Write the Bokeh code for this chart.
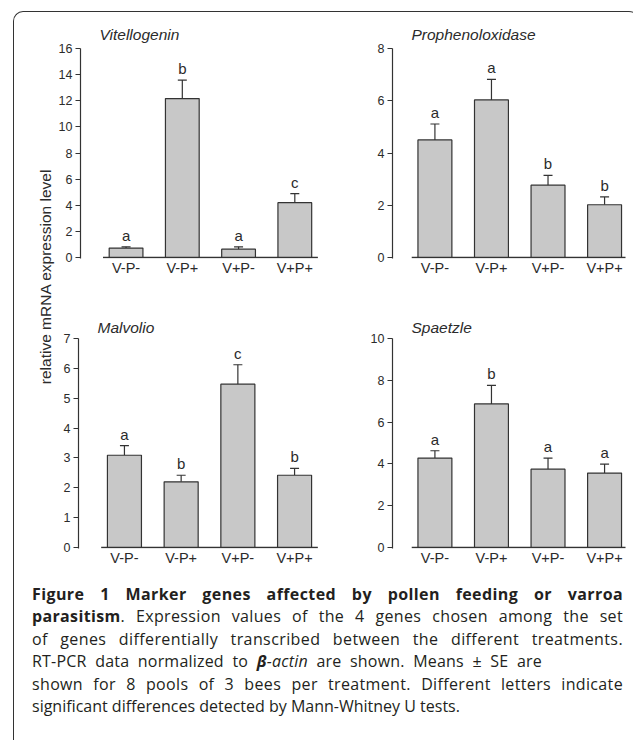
import math
from bokeh.plotting import figure
from bokeh.models import (Range1d, Whisker, ColumnDataSource, TeeHead, Label,
                          Div, FixedTicker, Spacer)
from bokeh.layouts import row, column
from bokeh.embed import file_html
from bokeh.resources import INLINE
from bokeh.core.properties import value

groups = ["V-P-", "V-P+", "V+P-", "V+P+"]

vit_mean = [0.72, 12.17, 0.64, 4.20]
vit_se = [0.10, 1.41, 0.18, 0.69]
vit_letters = ["a", "b", "a", "c"]

pro_mean = [4.50, 6.03, 2.77, 2.02]
pro_se = [0.61, 0.79, 0.37, 0.30]
pro_letters = ["a", "a", "b", "b"]

mal_mean = [3.09, 2.20, 5.47, 2.42]
mal_se = [0.32, 0.22, 0.65, 0.23]
mal_letters = ["a", "b", "c", "b"]

spa_mean = [4.28, 6.87, 3.75, 3.56]
spa_se = [0.35, 0.89, 0.53, 0.43]
spa_letters = ["a", "b", "a", "a"]

FONT = "Liberation Sans"
DARK = "#2b2b2b"


def panel(title, means, se, letters, ymax, ystep, width, height,
          mb_left, mb_right, mb_top, mb_bottom, x_lo, x_hi, title_standoff):
    xs = list(range(len(groups)))
    src = ColumnDataSource(dict(
        x=xs, mean=means, upper=[m + s for m, s in zip(means, se)],
        letter=letters))
    px = (height - mb_top - mb_bottom)
    p = figure(width=width, height=height, output_backend="svg",
               toolbar_location=None,
               x_range=Range1d(x_lo, x_hi),
               y_range=Range1d(-ymax / px * 1.0, ymax),
               min_border_left=mb_left, min_border_right=mb_right,
               min_border_top=mb_top, min_border_bottom=mb_bottom)
    p.outline_line_color = None
    p.grid.visible = False
    p.background_fill_color = None
    p.border_fill_color = None

    p.title.text = title
    p.title.text_font = FONT
    p.title.text_font_style = "italic"
    p.title.text_font_size = "15.5px"
    p.title.text_color = DARK
    p.title.offset = 19
    p.title.standoff = title_standoff

    p.vbar(x="x", top="mean", width=0.6, source=src, fill_color="#c8c8c8",
           line_color="#333333", line_width=1.2)
    w = Whisker(base="x", lower="mean", upper="upper", source=src,
                line_color="#333333", line_width=1.2,
                upper_head=TeeHead(size=9, line_color="#333333", line_width=1.2),
                lower_head=None)
    p.add_layout(w)
    p.text(x="x", y="upper", text="letter", source=src, text_align="center",
           text_baseline="bottom", y_offset=-3, text_font=value(FONT),
           text_font_size="15px", text_color=DARK)
    pad = 0.41
    p.segment(x0=[xs[0] - pad], y0=[0], x1=[xs[-1] + pad], y1=[0],
              line_color="#333333", line_width=1.5)

    xa = p.xaxis[0]
    xa.ticker = FixedTicker(ticks=xs)
    xa.major_label_overrides = {i: g for i, g in zip(xs, groups)}
    xa.axis_line_color = None
    xa.major_tick_line_color = None
    xa.minor_tick_line_color = None
    xa.major_tick_out = 0
    xa.major_tick_in = 0
    xa.major_label_standoff = 1
    xa.major_label_text_font = FONT
    xa.major_label_text_font_size = "14.5px"
    xa.major_label_text_color = DARK

    ya = p.yaxis[0]
    ya.ticker = FixedTicker(ticks=list(range(0, ymax + 1, ystep)))
    ya.axis_line_color = "#333333"
    ya.axis_line_width = 1.2
    ya.major_tick_line_color = "#333333"
    ya.major_tick_line_width = 1.2
    ya.major_tick_in = 0
    ya.major_tick_out = 5
    ya.minor_tick_line_color = None
    ya.major_label_standoff = 3
    ya.major_label_text_font = FONT
    ya.major_label_text_font_size = "12.5px"
    ya.major_label_text_color = DARK
    return p


H1, H2 = 279, 285
f1 = panel("Vitellogenin", vit_mean, vit_se, vit_letters, 16, 2,
           312, H1, 23, 44, 36, 33, -0.81, 3.51, 11)
f2 = panel("Prophenoloxidase", pro_mean, pro_se, pro_letters, 8, 2,
           262, H1, 25, 4, 36, 33, -0.75, 3.37, 11)
f3 = panel("Malvolio", mal_mean, mal_se, mal_letters, 7, 1,
           312, H2, 23, 44, 47, 28, -0.81, 3.51, 5)
f4 = panel("Spaetzle", spa_mean, spa_se, spa_letters, 10, 2,
           262, H2, 25, 4, 47, 28, -0.75, 3.37, 5)

ylab = figure(width=41, height=H1 + H2, output_backend="svg",
              toolbar_location=None, x_axis_type=None, y_axis_type=None,
              x_range=Range1d(0, 1), y_range=Range1d(0, 1),
              min_border=0)
ylab.outline_line_color = None
ylab.grid.visible = False
ylab.background_fill_color = None
ylab.border_fill_color = None
ylab.add_layout(Label(x=31, y=300, x_units="screen", y_units="screen",
                      text="relative mRNA expression level", angle=math.pi / 2,
                      text_align="center", text_baseline="middle",
                      text_font=FONT, text_font_size="15.5px",
                      text_color=DARK))

lines = [
    ("<b>Figure 1 Marker genes affected by pollen feeding or varroa</b>", "591px", True, "0.4px"),
    ("<b>parasitism</b>. Expression values of the 4 genes chosen among the set", "591px", True, "0.35px"),
    ("of genes differentially transcribed between the different treatments.", "591px", True, "0.4px"),
    ("RT-PCR data normalized to <i><b>&beta;</b>-actin</i> are shown. Means &plusmn; SE are", "510px", True, "0.2px"),
    ("shown for 8 pools of 3 bees per treatment. Different letters indicate", "591px", True, "0.35px"),
    ("significant differences detected by Mann-Whitney U tests.", "591px", False, "0px"),
]
html = "".join(
    '<div style="white-space:nowrap;width:{1};letter-spacing:{3};text-align:{0};'
    'text-align-last:{0};">{2}</div>'
    .format("justify" if j else "left", w, t, ls) for t, w, j, ls in lines)
cap = Div(text='<div style="padding:2px 0 0 13px;font-family:\'Open Sans\';'
               'font-size:16px;line-height:22.4px;color:#231f20;">' + html + '</div>',
          width=615, height=162)

inner = column(row(ylab, column(row(f1, f2), row(f3, f4))), cap,
               styles={"border-left": "1.5px solid #333",
                       "border-top": "1.5px solid #333",
                       "border-radius": "10px 10px 0 0"})
layout = column(Spacer(width=628, height=11), row(Spacer(width=13, height=726), inner))

open("out.html", "w").write(file_html(layout, INLINE))
